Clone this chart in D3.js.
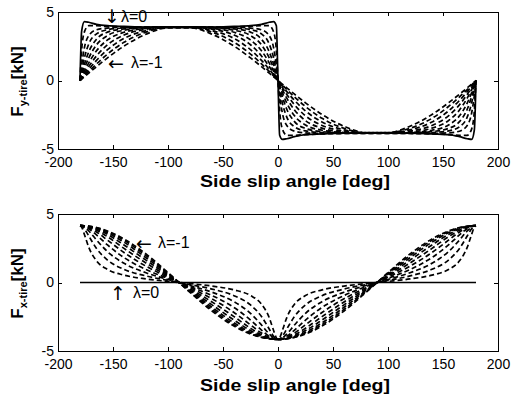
<!DOCTYPE html>
<html>
<head>
<meta charset="utf-8">
<script src="https://cdn.jsdelivr.net/npm/d3@7"></script>
<style>
  body { margin: 0; background: #fff; }
  svg { display: block; font-family: "Liberation Sans", Arial, Helvetica, sans-serif; }
</style>
</head>
<body>
<div id="chart"></div>
<script>
// side slip angle grid [deg], shared by every curve
const angles = [-180, -178.5, -176, -172, -165, -155, -140, -120, -100, -80, -60, -40, -25, -15, -8, -4, -1.5, 0,
                1.5, 4, 8, 15, 25, 40, 60, 80, 100, 120, 140, 155, 165, 172, 176, 178.5, 180];

// longitudinal slip of each curve, first one is drawn solid
const lambdas = [0, -0.1, -0.2, -0.3, -0.4, -0.5, -0.6, -0.7, -0.8, -0.9, -1.0];

// lateral tire force [kN], one row per lambda
const fyTire = [
  [0, 3.6, 4.3, 4.25, 4.1, 4.0, 3.95, 3.9, 3.9, 3.9, 3.9, 3.95, 4.0, 4.1, 4.25, 4.3, 4.0, 0, -4.0, -4.3, -4.25, -4.1, -3.95, -3.9, -3.85, -3.85, -3.85, -3.85, -3.9, -3.95, -4.1, -4.25, -4.3, -3.6, 0],
  [0, 2.2, 3.55, 4.0, 4.0, 3.95, 3.92, 3.9, 3.9, 3.9, 3.9, 3.92, 3.95, 4.0, 4.0, 3.55, 2.2, 0, -2.2, -3.55, -4.0, -4.0, -3.95, -3.9, -3.87, -3.86, -3.86, -3.87, -3.9, -3.95, -4.0, -4.0, -3.55, -2.2, 0],
  [0, 1.09, 2.39, 3.28, 3.7, 3.83, 3.88, 3.9, 3.9, 3.9, 3.9, 3.88, 3.83, 3.7, 3.28, 2.39, 1.09, 0, -1.09, -2.39, -3.28, -3.7, -3.82, -3.86, -3.86, -3.86, -3.86, -3.86, -3.86, -3.82, -3.7, -3.28, -2.39, -1.09, 0],
  [0, 0.67, 1.65, 2.67, 3.4, 3.71, 3.84, 3.88, 3.9, 3.9, 3.88, 3.84, 3.71, 3.4, 2.67, 1.65, 0.67, 0, -0.67, -1.65, -2.67, -3.38, -3.68, -3.8, -3.84, -3.85, -3.85, -3.84, -3.8, -3.68, -3.38, -2.67, -1.65, -0.67, 0],
  [0, 0.46, 1.18, 2.1, 3.01, 3.53, 3.77, 3.87, 3.9, 3.9, 3.87, 3.77, 3.53, 3.01, 2.1, 1.18, 0.46, 0, -0.46, -1.18, -2.1, -3.0, -3.5, -3.73, -3.83, -3.85, -3.85, -3.83, -3.73, -3.5, -3.0, -2.1, -1.18, -0.46, 0],
  [0, 0.34, 0.89, 1.65, 2.6, 3.28, 3.67, 3.84, 3.9, 3.9, 3.84, 3.67, 3.28, 2.6, 1.65, 0.89, 0.34, 0, -0.34, -0.89, -1.65, -2.58, -3.25, -3.63, -3.8, -3.85, -3.85, -3.8, -3.63, -3.25, -2.58, -1.65, -0.89, -0.34, 0],
  [0, 0.25, 0.67, 1.29, 2.17, 2.96, 3.52, 3.8, 3.89, 3.89, 3.8, 3.52, 2.96, 2.17, 1.29, 0.67, 0.25, 0, -0.25, -0.67, -1.29, -2.15, -2.93, -3.48, -3.76, -3.84, -3.84, -3.76, -3.48, -2.93, -2.15, -1.29, -0.67, -0.25, 0],
  [0, 0.2, 0.52, 1.02, 1.79, 2.61, 3.32, 3.74, 3.88, 3.88, 3.74, 3.32, 2.61, 1.79, 1.02, 0.52, 0.2, 0, -0.2, -0.52, -1.02, -1.77, -2.58, -3.28, -3.7, -3.83, -3.83, -3.7, -3.28, -2.58, -1.77, -1.02, -0.52, -0.2, 0],
  [0, 0.16, 0.41, 0.81, 1.47, 2.25, 3.07, 3.64, 3.87, 3.87, 3.64, 3.07, 2.25, 1.47, 0.81, 0.41, 0.16, 0, -0.16, -0.41, -0.81, -1.45, -2.22, -3.03, -3.6, -3.82, -3.82, -3.6, -3.03, -2.22, -1.45, -0.81, -0.41, -0.16, 0],
  [0, 0.12, 0.33, 0.66, 1.21, 1.93, 2.79, 3.53, 3.86, 3.86, 3.53, 2.79, 1.93, 1.21, 0.66, 0.33, 0.12, 0, -0.12, -0.33, -0.66, -1.2, -1.9, -2.76, -3.49, -3.81, -3.81, -3.49, -2.76, -1.9, -1.2, -0.66, -0.33, -0.12, 0],
  [0, 0.1, 0.27, 0.54, 1.01, 1.65, 2.51, 3.38, 3.84, 3.84, 3.38, 2.51, 1.65, 1.01, 0.54, 0.27, 0.1, 0, -0.1, -0.27, -0.54, -1.0, -1.63, -2.48, -3.34, -3.8, -3.8, -3.34, -2.48, -1.63, -1.0, -0.54, -0.27, -0.1, 0]
];

// longitudinal tire force [kN], one row per lambda
const fxTire = [
  [0, 0, 0, 0, 0, 0, 0, 0, 0, 0, 0, 0, 0, 0, 0, 0, 0, 0, 0, 0, 0, 0, 0, 0, 0, 0, 0, 0, 0, 0, 0, 0, 0, 0, 0],
  [4.15, 4.04, 3.5, 2.56, 1.58, 0.95, 0.54, 0.26, 0.08, -0.08, -0.26, -0.54, -0.95, -1.58, -2.56, -3.5, -4.04, -4.15, -4.04, -3.5, -2.56, -1.58, -0.95, -0.54, -0.26, -0.08, 0.08, 0.26, 0.54, 0.95, 1.58, 2.56, 3.5, 4.04, 4.15],
  [4.15, 4.12, 3.92, 3.39, 2.48, 1.64, 0.96, 0.48, 0.15, -0.15, -0.48, -0.96, -1.64, -2.48, -3.39, -3.92, -4.12, -4.15, -4.12, -3.92, -3.39, -2.48, -1.64, -0.96, -0.48, -0.15, 0.15, 0.48, 0.96, 1.64, 2.48, 3.39, 3.92, 4.12, 4.15],
  [4.15, 4.13, 4.04, 3.76, 3.1, 2.25, 1.4, 0.71, 0.22, -0.22, -0.71, -1.4, -2.25, -3.1, -3.76, -4.04, -4.13, -4.15, -4.13, -4.04, -3.76, -3.1, -2.25, -1.4, -0.71, -0.22, 0.22, 0.71, 1.4, 2.25, 3.1, 3.76, 4.04, 4.13, 4.15],
  [4.15, 4.14, 4.09, 3.93, 3.47, 2.74, 1.82, 0.95, 0.3, -0.3, -0.95, -1.82, -2.74, -3.47, -3.93, -4.09, -4.14, -4.15, -4.14, -4.09, -3.93, -3.47, -2.74, -1.82, -0.95, -0.3, 0.3, 0.95, 1.82, 2.74, 3.47, 3.93, 4.09, 4.14, 4.15],
  [4.15, 4.15, 4.11, 4.0, 3.69, 3.09, 2.19, 1.19, 0.38, -0.38, -1.19, -2.19, -3.09, -3.69, -4.0, -4.11, -4.15, -4.15, -4.15, -4.11, -4.0, -3.69, -3.09, -2.19, -1.19, -0.38, 0.38, 1.19, 2.19, 3.09, 3.69, 4.0, 4.11, 4.15, 4.15],
  [4.15, 4.15, 4.13, 4.05, 3.82, 3.34, 2.49, 1.42, 0.46, -0.46, -1.42, -2.49, -3.34, -3.82, -4.05, -4.13, -4.15, -4.15, -4.15, -4.13, -4.05, -3.82, -3.34, -2.49, -1.42, -0.46, 0.46, 1.42, 2.49, 3.34, 3.82, 4.05, 4.13, 4.15, 4.15],
  [4.15, 4.15, 4.13, 4.08, 3.9, 3.51, 2.74, 1.63, 0.54, -0.54, -1.63, -2.74, -3.51, -3.9, -4.08, -4.13, -4.15, -4.15, -4.15, -4.13, -4.08, -3.9, -3.51, -2.74, -1.63, -0.54, 0.54, 1.63, 2.74, 3.51, 3.9, 4.08, 4.13, 4.15, 4.15],
  [4.15, 4.15, 4.14, 4.09, 3.95, 3.63, 2.94, 1.81, 0.61, -0.61, -1.81, -2.94, -3.63, -3.95, -4.09, -4.14, -4.15, -4.15, -4.15, -4.14, -4.09, -3.95, -3.63, -2.94, -1.81, -0.61, 0.61, 1.81, 2.94, 3.63, 3.95, 4.09, 4.14, 4.15, 4.15],
  [4.15, 4.15, 4.14, 4.1, 3.99, 3.71, 3.08, 1.96, 0.67, -0.67, -1.96, -3.08, -3.71, -3.99, -4.1, -4.14, -4.15, -4.15, -4.15, -4.14, -4.1, -3.99, -3.71, -3.08, -1.96, -0.67, 0.67, 1.96, 3.08, 3.71, 3.99, 4.1, 4.14, 4.15, 4.15],
  [4.15, 4.15, 4.14, 4.11, 4.01, 3.76, 3.18, 2.08, 0.72, -0.72, -2.08, -3.18, -3.76, -4.01, -4.11, -4.14, -4.15, -4.15, -4.15, -4.14, -4.11, -4.01, -3.76, -3.18, -2.08, -0.72, 0.72, 2.08, 3.18, 3.76, 4.01, 4.11, 4.14, 4.15, 4.15]
];

const xTicks = [-200, -150, -100, -50, 0, 50, 100, 150, 200];
const yTicks = [-5, 0, 5];

const W = 513, H = 396;
const fontFamily = '"Liberation Sans", Arial, Helvetica, sans-serif';
const arrowFont = '"DejaVu Sans", sans-serif';

const svg = d3.select('#chart').append('svg')
  .attr('width', W)
  .attr('height', H);

const x = d3.scaleLinear().domain([-200, 200]).range([58, 498]);

const panels = [
  {top: 12,  bottom: 149, series: fyTire, sub: 'y-tire', titleY: 187,
   notes: [
     {text: '\u2193', x: 112, y: 23, anchor: 'middle', arrow: true},
     {text: '\u03bb=0', x: 121, y: 22, anchor: 'start'},
     {text: '\u2190', x: 116, y: 70, anchor: 'middle', arrow: true},
     {text: '\u03bb=-1', x: 131, y: 68, anchor: 'start'},
   ]},
  {top: 214, bottom: 351, series: fxTire, sub: 'x-tire', titleY: 391,
   notes: [
     {text: '\u2190', x: 144, y: 250, anchor: 'middle', arrow: true},
     {text: '\u03bb=-1', x: 158, y: 248, anchor: 'start'},
     {text: '\u2191', x: 118, y: 300, anchor: 'middle', arrow: true},
     {text: '\u03bb=0', x: 133, y: 298, anchor: 'start'},
   ]},
];

const styleAxis = (g) => {
  g.select('.domain').remove();
  g.attr('font-family', fontFamily).attr('font-size', 14);
  g.selectAll('line').attr('shape-rendering', 'crispEdges');
};

const drawPanel = (p) => {
  const y = d3.scaleLinear().domain([-5, 5]).range([p.bottom, p.top]);
  const g = svg.append('g');

  const line = d3.line()
    .x((d, i) => x(angles[i]))
    .y((d) => y(d))
    .curve(d3.curveMonotoneX);

  // dashed curves for lambda < 0
  g.append('g')
    .selectAll('path')
    .data(p.series.filter((row, i) => lambdas[i] !== 0))
    .enter()
    .append('path')
      .attr('d', line)
      .attr('fill', 'none')
      .attr('stroke', '#000')
      .attr('stroke-width', 1.7)
      .attr('stroke-dasharray', '5,3');

  // solid curve for lambda = 0
  g.append('path')
    .datum(p.series[lambdas.indexOf(0)])
    .attr('d', line)
    .attr('fill', 'none')
    .attr('stroke', '#000')
    .attr('stroke-width', 1.7);

  // ticks on all four sides, pointing inward
  g.append('g')
    .attr('transform', `translate(0,${p.bottom})`)
    .call(d3.axisBottom(x).tickValues(xTicks).tickFormat((d) => String(d))
      .tickSizeInner(-4).tickSizeOuter(0).tickPadding(8))
    .call(styleAxis);

  g.append('g')
    .attr('transform', `translate(0,${p.top})`)
    .call(d3.axisTop(x).tickValues(xTicks).tickFormat('')
      .tickSizeInner(-4).tickSizeOuter(0))
    .call(styleAxis);

  g.append('g')
    .attr('transform', 'translate(58,0)')
    .call(d3.axisLeft(y).tickValues(yTicks).tickFormat((d) => String(d))
      .tickSizeInner(-4).tickSizeOuter(0).tickPadding(4))
    .call(styleAxis);

  g.append('g')
    .attr('transform', 'translate(498,0)')
    .call(d3.axisRight(y).tickValues(yTicks).tickFormat('')
      .tickSizeInner(-4).tickSizeOuter(0))
    .call(styleAxis);

  g.append('rect')
    .attr('x', 58.5)
    .attr('y', p.top + 0.5)
    .attr('width', 440)
    .attr('height', p.bottom - p.top)
    .attr('fill', 'none')
    .attr('stroke', '#000')
    .attr('stroke-width', 1);

  // x title
  g.append('text')
    .attr('x', 295)
    .attr('y', p.titleY)
    .attr('text-anchor', 'middle')
    .attr('font-weight', 'bold')
    .attr('font-size', '17px')
    .attr('textLength', 190)
    .attr('lengthAdjust', 'spacingAndGlyphs')
    .text('Side slip angle [deg]');

  // y title with subscript
  const yt = g.append('text')
    .attr('transform', `translate(23,${(p.top + p.bottom) / 2 + 1}) rotate(-90)`)
    .attr('text-anchor', 'middle')
    .attr('font-weight', 'bold')
    .attr('font-size', '17px');
  yt.append('tspan').text('F');
  yt.append('tspan').attr('font-size', '11px').attr('dy', 4).text(p.sub);
  yt.append('tspan').attr('dy', -4).text('[kN]');

  // lambda annotations
  g.append('g')
    .selectAll('text')
    .data(p.notes)
    .enter()
    .append('text')
      .attr('x', (d) => d.x)
      .attr('y', (d) => d.y)
      .attr('text-anchor', (d) => d.anchor)
      .attr('font-family', (d) => d.arrow ? arrowFont : fontFamily)
      .attr('font-size', (d) => d.arrow ? '19px' : '16px')
      .text((d) => d.text);
};

panels.forEach(drawPanel);
</script>
</body>
</html>
